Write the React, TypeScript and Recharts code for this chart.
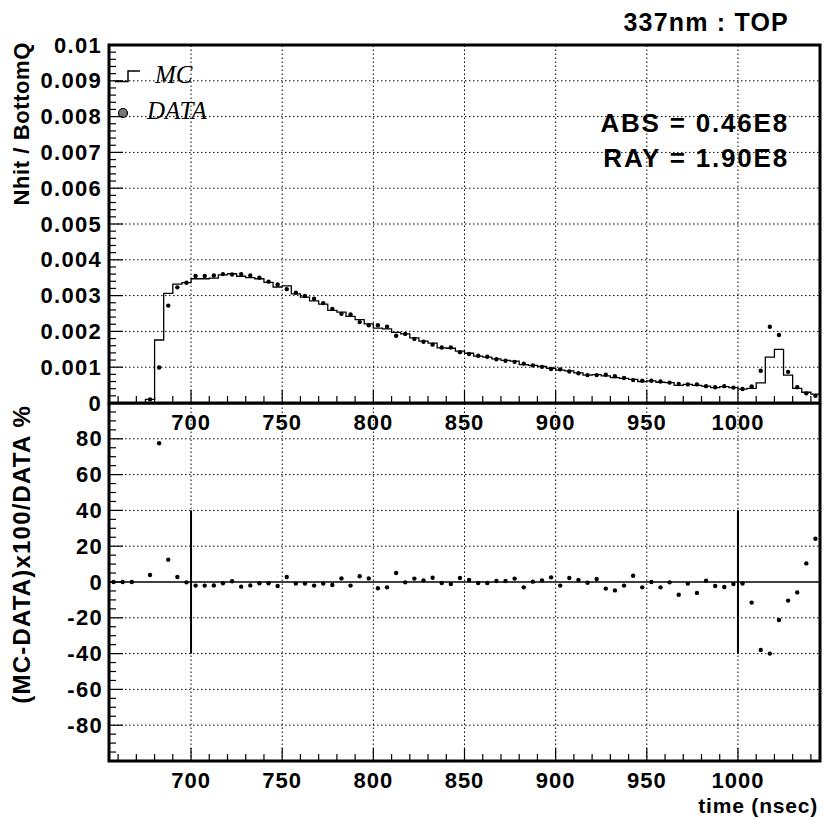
import {
  ComposedChart,
  Line,
  XAxis,
  YAxis,
  ReferenceLine,
  ReferenceArea,
  Customized,
} from 'recharts'

// 5 ns bins, centres from 657.5 to 1042.5
const binCenters = Array.from({ length: 78 }, (_, i) => 657.5 + 5 * i)

// MC histogram (Nhit / BottomQ)
const mcValues = [
  0, 0, 0, 0, 0.0001, 0.00176, 0.00306, 0.00332, 0.00336, 0.00347,
  0.00347, 0.00349, 0.00358, 0.00361, 0.00354, 0.0035, 0.00347, 0.00337, 0.00324, 0.00327,
  0.00305, 0.00296, 0.00285, 0.00276, 0.00259, 0.00254, 0.00242, 0.00233, 0.00221, 0.00209,
  0.00207, 0.00197, 0.00193, 0.00182, 0.00173, 0.00167, 0.00154, 0.00153, 0.00145, 0.00139,
  0.00131, 0.00128, 0.00123, 0.00119, 0.00117, 0.00107, 0.00105, 0.00102, 0.00097, 0.00092,
  0.0009, 0.00084, 0.00078, 0.00079, 0.00076, 0.00071, 0.00069, 0.00066, 0.0006, 0.00062,
  0.00058, 0.00057, 0.00049, 0.00052, 0.00049, 0.00047, 0.00043, 0.00046, 0.00043, 0.00039,
  0.00041, 0.00056, 0.00128, 0.0015, 0.00078, 0.00041, 0.0003, 0.00025,
]

// DATA points (Nhit / BottomQ)
const dataValues = [
  null, null, null, null, 0.0001, 0.00099, 0.00272, 0.00323, 0.00336, 0.00355,
  0.00355, 0.00356, 0.0036, 0.00359, 0.0036, 0.00356, 0.0035, 0.00339, 0.00331, 0.00318,
  0.00308, 0.00299, 0.00291, 0.00279, 0.00263, 0.00249, 0.00247, 0.00226, 0.00217, 0.00217,
  0.00213, 0.00188, 0.00193, 0.00179, 0.00171, 0.00163, 0.00155, 0.00155, 0.00142, 0.00137,
  0.00132, 0.00129, 0.00122, 0.00118, 0.00115, 0.0011, 0.00105, 0.00101, 0.00095, 0.00094,
  0.00088, 0.00083, 0.00078, 0.00078, 0.00079, 0.00075, 0.0007, 0.00064, 0.00062, 0.00062,
  0.0006, 0.00057, 0.00053, 0.00052, 0.00052, 0.00047, 0.00044, 0.00047, 0.00043, 0.00039,
  0.00046, 0.0009, 0.00213, 0.0019, 0.00087, 0.00044, 0.00027, 0.0002,
]

// (MC-DATA)x100/DATA %
const residualValues = [
  0, 0, 0, null, 3.9, 77.5, 12.5, 2.8, -0.2, -2.0,
  -2.0, -1.9, -0.7, 0.4, -2.6, -1.9, -0.7, -0.7, -2.2, 2.8,
  -0.9, -0.9, -2.0, -0.9, -1.7, 2.0, -2.0, 3.2, 2.0, -3.5,
  -3.0, 5.0, -0.2, 1.9, 0.9, 2.4, -0.6, -1.1, 2.2, 1.1,
  -0.6, -0.6, 0.6, 0.6, 1.9, -3.0, 0.2, 0.9, 2.6, -2.0,
  2.2, 1.1, -0.4, 1.7, -3.7, -4.7, -2.0, 3.5, -3.0, 0,
  -3.0, -0.2, -7.1, -0.9, -6.1, 0.7, -2.2, -2.8, -1.1, -0.9,
  -11.5, -38, -40, -21.2, -10.4, -5.8, 10.4, 24.2,
]

const xMajorTicks = [700, 750, 800, 850, 900, 950, 1000]
const topYMajorTicks = [0, 0.001, 0.002, 0.003, 0.004, 0.005, 0.006, 0.007, 0.008, 0.009, 0.01]
const resYMajorTicks = [-80, -60, -40, -20, 0, 20, 40, 60, 80]

const X_MIN = 655
const X_MAX = 1045
const xTicks = Array.from({ length: 39 }, (_, i) => 660 + 10 * i)
const topYTicks = Array.from({ length: 51 }, (_, i) => +(i * 0.0002).toFixed(4))
const resYTicks = Array.from({ length: 41 }, (_, i) => -100 + 5 * i)

const topRows = [
  ...binCenters.map((t, i) => ({ t: t - 2.5, mc: mcValues[i] })),
  { t: X_MAX, mc: mcValues[mcValues.length - 1] },
  ...binCenters.map((t, i) => ({ t, data: dataValues[i] })),
].sort((a, b) => a.t - b.t)

const resRows = binCenters.map((t, i) => ({ t, res: residualValues[i] }))

const FONT = "'Liberation Sans', Arial, Helvetica, sans-serif"
const SERIF = "'Liberation Serif', 'Times New Roman', serif"
const LEFT = 109
const dotted = '1.5 2.5'

const makeXTick = (axisY: number, labelY: number) => (props: any) => {
  const { x, payload } = props
  const v = payload.value
  const major = v % 50 === 0
  return (
    <g>
      <line x1={x} x2={x} y1={axisY} y2={axisY - (major ? 13 : 7)} stroke="#000" strokeWidth={1.2} />
      {major && (
        <text x={x} y={labelY} textAnchor="middle" dominantBaseline="central"
          fontFamily={FONT} fontWeight="bold" fontSize={22} letterSpacing={1} fill="#000">
          {v}
        </text>
      )}
    </g>
  )
}

const TopYTick = (props: any) => {
  const { y, payload } = props
  const v = payload.value
  const major = Math.round(v / 0.0002) % 5 === 0
  return (
    <g>
      <line x1={LEFT} x2={LEFT + (major ? 14 : 7)} y1={y} y2={y} stroke="#000" strokeWidth={1.2} />
      {major && (
        <text x={102} y={y} textAnchor="end" dominantBaseline="central"
          fontFamily={FONT} fontWeight="bold" fontSize={22} letterSpacing={1.3} fill="#000">
          {String(Number(v.toFixed(3)))}
        </text>
      )}
    </g>
  )
}

const ResYTick = (props: any) => {
  const { y, payload } = props
  const v = payload.value
  const major = v % 20 === 0 && Math.abs(v) < 100
  return (
    <g>
      <line x1={LEFT} x2={LEFT + (major ? 14 : 7)} y1={y} y2={y} stroke="#000" strokeWidth={1.2} />
      {major && (
        <text x={103} y={y} textAnchor="end" dominantBaseline="central"
          fontFamily={FONT} fontWeight="bold" fontSize={22} letterSpacing={1.3} fill="#000">
          {v}
        </text>
      )}
    </g>
  )
}

const TopDecor = () => (
  <g fontFamily={FONT} fontWeight="bold" fill="#000">
    <text x={789} y={22} textAnchor="end" dominantBaseline="central" fontSize={25} letterSpacing={1.2}>
      337nm : TOP
    </text>
    <text x={789} y={123} textAnchor="end" dominantBaseline="central" fontSize={26} letterSpacing={1.8}>
      ABS = 0.46E8
    </text>
    <text x={789} y={158} textAnchor="end" dominantBaseline="central" fontSize={26} letterSpacing={1.8}>
      RAY = 1.90E8
    </text>
    <text transform="translate(21,42) rotate(-90)" textAnchor="end" dominantBaseline="central"
      fontSize={22} letterSpacing={0.6}>
      Nhit / BottomQ
    </text>
    <path d="M115 81.5 H128 V71 H140" fill="none" stroke="#000" strokeWidth={1.5} />
    <text x={155} y={74} dominantBaseline="central" fontFamily={SERIF} fontStyle="italic" fontWeight="normal" fontSize={25}>
      MC
    </text>
    <circle cx={123} cy={113} r={4.5} fill="#777" stroke="#000" strokeWidth={1.2} />
    <text x={147} y={110} dominantBaseline="central" fontFamily={SERIF} fontStyle="italic" fontWeight="normal" fontSize={25}>
      DATA
    </text>
  </g>
)

const BottomDecor = () => (
  <g fontFamily={FONT} fontWeight="bold" fill="#000">
    <text transform="translate(21,2) rotate(-90)" textAnchor="end" dominantBaseline="central"
      fontSize={24} letterSpacing={1.2}>
      (MC-DATA)x100/DATA %
    </text>
    <text x={818} y={805} transform="translate(0,-403)" textAnchor="end" dominantBaseline="central"
      fontSize={21} letterSpacing={0.8}>
      time (nsec)
    </text>
  </g>
)

export default function App() {
  return (
    <div style={{ position: 'absolute', left: 0, top: 0, width: 824, height: 819, background: '#fff' }}>
      <div style={{ position: 'absolute', left: 0, top: 0 }}>
        <ComposedChart width={824} height={440} data={topRows}
          margin={{ top: 45, right: 4, left: 0, bottom: 7 }}>
          <XAxis dataKey="t" type="number" domain={[X_MIN, X_MAX]} allowDataOverflow
            ticks={xTicks} interval={0} height={30} axisLine={false} tickLine={false}
            tick={makeXTick(403, 422)} />
          <YAxis type="number" domain={[0, 0.01]} allowDataOverflow width={LEFT}
            ticks={topYTicks} interval={0} axisLine={false} tickLine={false} tick={TopYTick} />
          {xMajorTicks.map((v) => (
            <ReferenceLine key={`vx-${v}`} x={v} stroke="#000" strokeWidth={1} strokeDasharray={dotted} />
          ))}
          {topYMajorTicks.filter((v) => v > 0 && v < 0.01).map((v) => (
            <ReferenceLine key={`hy-${v}`} y={v} stroke="#000" strokeWidth={1} strokeDasharray={dotted} />
          ))}
          <Line dataKey="mc" type="stepAfter" connectNulls stroke="#000" strokeWidth={1.3}
            dot={false} isAnimationActive={false} />
          <Line dataKey="data" stroke="none" dot={{ r: 2.2, fill: '#000', stroke: 'none' }}
            isAnimationActive={false} />
          <ReferenceArea x1={X_MIN} x2={X_MAX} y1={0} y2={0.01} fill="none" stroke="#000" strokeWidth={3} />
          <Customized component={TopDecor} />
        </ComposedChart>
      </div>
      <div style={{ position: 'absolute', left: 0, top: 403 }}>
        <ComposedChart width={824} height={416} data={resRows}
          margin={{ top: 0, right: 4, left: 0, bottom: 0 }}>
          <XAxis dataKey="t" type="number" domain={[X_MIN, X_MAX]} allowDataOverflow
            ticks={xTicks} interval={0} height={58} axisLine={false} tickLine={false}
            tick={makeXTick(358, 377)} />
          <YAxis type="number" domain={[-100, 100]} allowDataOverflow width={LEFT}
            ticks={resYTicks} interval={0} axisLine={false} tickLine={false} tick={ResYTick} />
          {xMajorTicks.map((v) => (
            <ReferenceLine key={`bx-${v}`} x={v} stroke="#000" strokeWidth={1} strokeDasharray={dotted} />
          ))}
          {resYMajorTicks.filter((v) => v !== 0).map((v) => (
            <ReferenceLine key={`by-${v}`} y={v} stroke="#000" strokeWidth={1} strokeDasharray={dotted} />
          ))}
          <ReferenceLine y={0} stroke="#000" strokeWidth={1.5} />
          <ReferenceLine segment={[{ x: 700, y: -40 }, { x: 700, y: 40 }]} stroke="#000" strokeWidth={2} />
          <ReferenceLine segment={[{ x: 1000, y: -40 }, { x: 1000, y: 40 }]} stroke="#000" strokeWidth={2} />
          <Line dataKey="res" stroke="none" dot={{ r: 2.2, fill: '#000', stroke: 'none' }}
            isAnimationActive={false} />
          <ReferenceArea x1={X_MIN} x2={X_MAX} y1={-100} y2={100} fill="none" stroke="#000" strokeWidth={3} />
          <Customized component={BottomDecor} />
        </ComposedChart>
      </div>
    </div>
  )
}
